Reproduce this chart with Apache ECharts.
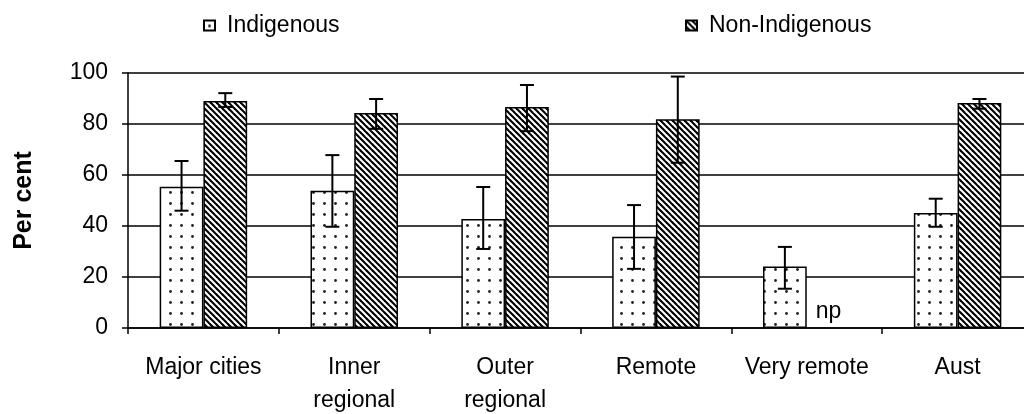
<!DOCTYPE html>
<html>
<head>
<meta charset="utf-8">
<script src="https://cdn.jsdelivr.net/npm/echarts@6/dist/echarts.min.js"></script>
<style>
html, body { margin: 0; padding: 0; background: #fff; }
#chart { width: 1024px; height: 414px; }
</style>
</head>
<body>
<div id="chart"></div>
<script>
// values
const categories = ['Major cities', 'Inner\nregional', 'Outer\nregional', 'Remote', 'Very remote', 'Aust'];
const indigenous = [55.4, 53.8, 42.7, 35.8, 24.1, 45.1];
const indigenousLow = [46.0, 39.7, 31.0, 23.2, 15.4, 39.7];
const indigenousHigh = [65.5, 67.8, 55.3, 48.2, 31.8, 50.7];
const nonIndigenous = [89.0, 84.3, 86.7, 81.9, null, 88.2];
const nonIndigenousLow = [86.7, 78.1, 77.2, 64.8, null, 86.0];
const nonIndigenousHigh = [92.1, 89.8, 95.3, 98.6, null, 89.8];
const yMin = 0, yMax = 100, yStep = 20;

const FONT = 'Liberation Sans';
const BAR_W = 0.29; // share of the category band

// fill patterns
const makeDots = () => {
    const c = document.createElement('canvas');
    c.width = 11; c.height = 11;
    const ctx = c.getContext('2d');
    ctx.fillStyle = '#fff';
    ctx.fillRect(0, 0, 11, 11);
    ctx.fillStyle = '#222';
    ctx.beginPath();
    ctx.arc(5.5, 5.5, 1.4, 0, Math.PI * 2);
    ctx.fill();
    return c;
}
const makeStripes = () => {
    const p = 6;
    const c = document.createElement('canvas');
    c.width = p; c.height = p;
    const ctx = c.getContext('2d');
    ctx.fillStyle = '#fff';
    ctx.fillRect(0, 0, p, p);
    ctx.strokeStyle = '#000';
    ctx.lineWidth = p / Math.SQRT2 / 2;
    for (let k = -1; k <= 1; k++) {
        ctx.beginPath();
        ctx.moveTo(k * p - 1, -1);
        ctx.lineTo(k * p + p + 1, p + 1);
        ctx.stroke();
    }
    return c;
}
const dots = { image: makeDots(), repeat: 'repeat' };
const stripes = { image: makeStripes(), repeat: 'repeat' };

// error bars drawn over the bars, side -1 = left bar, +1 = right bar
const errorSeries = (low, high, side) => ({
    type: 'custom',
    z: 5,
    silent: true,
    encode: { x: 0, y: [1, 2] },
    data: low.map((l, i) => l == null ? null : [i, l, high[i]]).filter(d => d),
    renderItem: (params, api) => {
        const band = api.size([1, 0])[0];
        const off = side * band * BAR_W / 2;
        const lo = api.coord([api.value(0), api.value(1)]);
        const hi = api.coord([api.value(0), api.value(2)]);
        const x = lo[0] + off;
        const cap = 7;
        const style = { stroke: '#000', lineWidth: 2 };
        return {
            type: 'group',
            children: [
                { type: 'line', shape: { x1: x, y1: hi[1], x2: x, y2: lo[1] }, style },
                { type: 'line', shape: { x1: x - cap, y1: hi[1], x2: x + cap, y2: hi[1] }, style },
                { type: 'line', shape: { x1: x - cap, y1: lo[1], x2: x + cap, y2: lo[1] }, style }
            ]
        };
    }
});

const legendText = { fontFamily: FONT, fontSize: 23, color: '#000', padding: [0, 0, 0, 7] };

const chart = echarts.init(document.getElementById('chart'));
chart.setOption({
    animation: false,
    textStyle: { fontFamily: FONT, color: '#000' },
    legend: [
        {
            data: ['Indigenous'], left: 198, top: 9,
            icon: 'rect', itemWidth: 11, itemHeight: 10,
            textStyle: legendText
        },
        {
            data: ['Non-Indigenous'], left: 680, top: 9,
            icon: 'rect', itemWidth: 11, itemHeight: 10,
            textStyle: legendText
        }
    ],
    // plot runs past the right edge of the picture, as in the original
    grid: { left: 128, top: 73, width: 905, height: 255, outerBoundsMode: 'none' },
    xAxis: {
        type: 'category',
        data: categories,
        axisLine: { lineStyle: { color: '#000', width: 1.5 } },
        axisTick: { show: true, length: 6, lineStyle: { color: '#000', width: 1.5 } },
        axisLabel: { interval: 0, margin: 23, fontSize: 23, lineHeight: 33, color: '#000', fontFamily: FONT }
    },
    yAxis: {
        type: 'value',
        min: yMin, max: yMax, interval: yStep,
        name: 'Per cent',
        nameLocation: 'middle',
        nameGap: 91,
        nameTextStyle: { fontSize: 25, fontWeight: 'bold', color: '#000', fontFamily: FONT },
        axisLine: { show: true, lineStyle: { color: '#000', width: 1.5 } },
        axisTick: { show: true, length: 6, lineStyle: { color: '#000', width: 1.5 } },
        axisLabel: { margin: 20, fontSize: 23, color: '#000', fontFamily: FONT },
        splitLine: { lineStyle: { color: '#000', width: 1.5 } }
    },
    series: [
        {
            name: 'Indigenous',
            type: 'bar',
            barWidth: (BAR_W * 100) + '%',
            barGap: '0%',
            data: indigenous,
            itemStyle: { color: dots, borderColor: '#000', borderWidth: 1.5 }
        },
        {
            name: 'Non-Indigenous',
            type: 'bar',
            barWidth: (BAR_W * 100) + '%',
            barGap: '0%',
            data: nonIndigenous.map(v => v == null ? {
                value: 0,
                itemStyle: { borderWidth: 0 },
                label: { show: true, formatter: 'np', position: 'top', distance: 5, fontSize: 23, color: '#000', fontFamily: FONT }
            } : v),
            itemStyle: { color: stripes, borderColor: '#000', borderWidth: 1.5 }
        },
        errorSeries(indigenousLow, indigenousHigh, -1),
        errorSeries(nonIndigenousLow, nonIndigenousHigh, 1)
    ]
});
</script>
</body>
</html>
